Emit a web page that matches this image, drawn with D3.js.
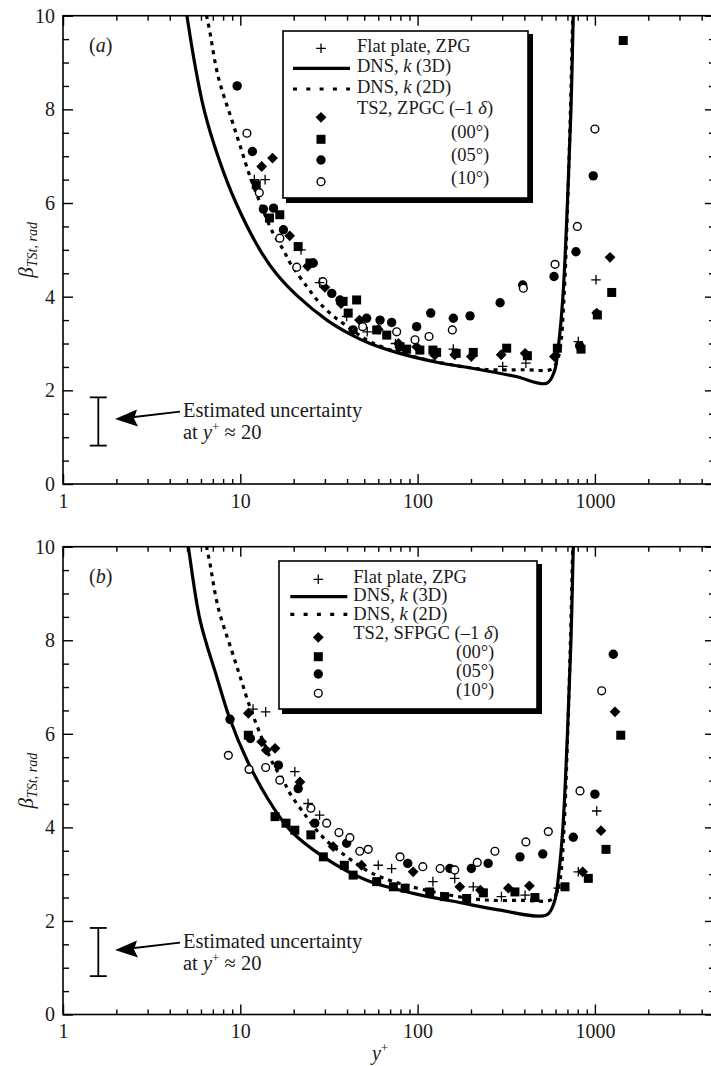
<!DOCTYPE html>
<html><head><meta charset="utf-8">
<script src="https://cdn.jsdelivr.net/npm/d3@7"></script>
<style>body{margin:0;background:#fff}</style>
</head><body>
<svg id="c" width="711" height="1066" xmlns="http://www.w3.org/2000/svg"></svg>
<script>
// ---------- data ----------
const xMajorTicks = [1, 10, 100, 1000];
const yMajorTicks = [0, 2, 4, 6, 8, 10];

// DNS curves (y+, beta)
const dns3DA = [[4.82,10.4],[5.0,10],[5.52,9.0],[6.24,8.0],[7.48,7.0],[9.46,6.0],[12.9,5.0],[15.9,4.5],[21.2,4.0],[30.8,3.5],[41.6,3.2],[53.9,3.0],[77.5,2.8],[128.6,2.6],[219,2.45],[354,2.3],[535,2.15],[590,2.4],[625,3.0],[660,4.0],[700,6.0],[733,8.0],[755,10],[760,10.4]];
const dns3DB = [[4.9,10.4],[5.09,10],[5.93,8.43],[7.36,7.22],[8.75,6.31],[10.9,5.44],[14.1,4.65],[19.1,3.94],[29.4,3.37],[51.6,2.87],[94.6,2.59],[181,2.38],[292,2.23],[535,2.13],[590,2.4],[625,3.0],[660,4.0],[700,6.0],[733,8.0],[755,10],[760,10.4]];
const dns2D = [[6.35,10.4],[6.46,10],[6.7,9.7],[7.5,8.7],[8.94,7.78],[10,7.21],[11.1,6.67],[12.6,6.11],[15.3,5.36],[17.5,5.0],[19.1,4.72],[23.7,4.22],[27.5,3.9],[32,3.65],[38,3.43],[51.6,3.08],[62.8,2.93],[86.6,2.76],[139,2.58],[235,2.45],[400,2.44],[558,2.44],[600,2.55],[635,2.86],[670,4.0],[703,6.07],[728,8.0],[750,10],[755,10.4]];

// panel (a): TS2, ZPGC
const flatPlateA = [[12.0,6.5],[13.8,6.5],[22,5.0],[28,4.3],[39.8,3.58],[52,3.25],[75,3.0],[100,2.9],[159,2.88],[302,2.51],[408,2.58],[806,3.04],[1014,4.36]];
const zpgcMinus1 = [[13.2,6.78],[15.2,6.96],[19,5.3],[24,4.65],[30,4.2],[37,3.85],[47,3.5],[60,3.3],[78,3.0],[98.8,2.93],[125,2.75],[162,2.76],[201,2.72],[296,2.76],[404,2.79],[591,2.72],[1024,3.65],[1217,4.84]];
const zpgc00 = [[12.3,6.39],[14.6,5.68],[16.7,5.75],[21.2,5.07],[24.7,4.72],[38,3.9],[45.3,3.93],[40.6,3.65],[58.8,3.29],[67,3.18],[79.6,2.93],[86.7,2.88],[103,2.86],[122,2.86],[128,2.81],[165,2.79],[206,2.81],[318,2.9],[416,2.74],[614,2.9],[835,2.88],[1032,3.61],[1244,4.09],[1445,9.47]];
const zpgc05 = [[9.6,8.5],[11.7,7.1],[13.5,5.87],[15.4,5.89],[17.5,5.43],[25.8,4.72],[32.8,4.07],[36.5,3.93],[43.3,3.29],[51.6,3.54],[61.4,3.5],[71.4,3.45],[98.8,3.36],[118.6,3.65],[159,3.54],[197.6,3.59],[292,3.87],[391.5,4.25],[588,4.43],[782,4.96],[820,2.95],[979,6.58]];
const zpgc10 = [[10.9,7.49],[12.8,6.22],[16.7,5.25],[20.8,4.63],[29.2,4.32],[49,3.36],[76.2,3.25],[96.7,3.08],[116,3.15],[157,3.29],[395,4.18],[596,4.69],[796,5.5],[1000,7.58]];

// panel (b): TS2, SFPGC
const flatPlateB = [[11.8,6.53],[13.9,6.47],[20.3,5.19],[24.1,4.51],[28,4.26],[60,3.19],[71.4,3.12],[122,2.84],[162,2.91],[206,2.73],[297,2.52],[404,2.55],[621,2.7],[806,3.05],[1024,4.35]];
const sfpgcMinus1 = [[11.1,6.44],[13.2,5.83],[14,5.65],[15.7,5.69],[21.7,4.97],[33.4,3.59],[48.3,3.19],[94.4,3.05],[173,2.73],[226,2.66],[325,2.7],[427,2.75],[853,3.05],[1082,3.93],[1298,6.47]];
const sfpgc00 = [[11.1,5.97],[15.7,4.23],[18.1,4.09],[20.3,3.94],[25,3.84],[29.4,3.37],[38.6,3.19],[43.3,2.98],[58.8,2.84],[73,2.73],[85,2.7],[117,2.62],[142,2.52],[189,2.48],[235,2.6],[354,2.62],[459,2.5],[678,2.73],[918,2.91],[1155,3.53],[1399,5.97]];
const sfpgc05 = [[8.75,6.31],[11.4,5.9],[16.4,5.33],[21.2,4.83],[26.3,4.09],[39.8,3.66],[88,3.23],[152,3.12],[201,3.12],[250,3.23],[378,3.37],[508,3.43],[755,3.79],[1000,4.71],[1270,7.7]];
const sfpgc10 = [[8.56,5.54],[11.2,5.24],[13.9,5.28],[16.7,5.01],[25,4.41],[30.7,4.09],[36,3.89],[41.5,3.78],[47.2,3.49],[52.7,3.53],[79.6,3.37],[107,3.16],[134,3.12],[162,3.09],[217,3.25],[273,3.49],[408,3.69],[546,3.91],[824,4.78],[1092,6.92]];

const legendCaseA = "TS2, ZPGC (\u20131 ";
const legendCaseB = "TS2, SFPGC (\u20131 ";
const angleLabels = ["(00\u00b0)", "(05\u00b0)", "(10\u00b0)"];
const uncertaintyRange = [0.82, 1.85];

// ---------- layout ----------
const FONT = '"Liberation Serif"';
const svg = d3.select("#c");
const X_LEFT = 63, X_RIGHT = 715;
const DECADE = 177.3;
const xMax = Math.pow(10, (X_RIGHT - X_LEFT) / DECADE);
const x = d3.scaleLog().domain([1, xMax]).range([X_LEFT, X_RIGHT]);

const panels = [
  { tag: "a", top: 15.7, bottom: 484, dns3D: dns3DA, pts: [flatPlateA, zpgcMinus1, zpgc00, zpgc05, zpgc10], caseLabel: legendCaseA,
    leg: { x0: 283, y0: 31, x1: 528, y1: 198, sym: 321, txt: 357, ang: 451,
           rows: [48.3, 68.3, 89, 0, 117.3, 139.3, 160, 181.7],
           base: [52, 72, 93, 114, 0, 138, 161, 184] } },
  { tag: "b", top: 546.7, bottom: 1014.5, dns3D: dns3DB, pts: [flatPlateB, sfpgcMinus1, sfpgc00, sfpgc05, sfpgc10], caseLabel: legendCaseB,
    leg: { x0: 279, y0: 561, x1: 537, y1: 709, sym: 318.3, txt: 353.3, ang: 456,
           rows: [579.3, 596.7, 614.3, 0, 637.3, 656.7, 674, 693.3],
           base: [583, 601, 619.5, 638.5, 0, 658, 677, 696] } }
];

function marker(g, type, cx, cy) {
  if (type === "plus") {
    g.append("path").attr("d", `M${cx-4.8},${cy}H${cx+4.8}M${cx},${cy-4.8}V${cy+4.8}`)
      .attr("stroke", "#000").attr("stroke-width", 1.3).attr("fill", "none");
  } else if (type === "diamond") {
    const s = 5.4;
    g.append("path").attr("d", `M${cx},${cy-s}L${cx+s},${cy}L${cx},${cy+s}L${cx-s},${cy}Z`).attr("fill", "#000");
  } else if (type === "square") {
    g.append("rect").attr("x", cx-4.5).attr("y", cy-4.5).attr("width", 9).attr("height", 9).attr("fill", "#000");
  } else if (type === "circle") {
    g.append("circle").attr("cx", cx).attr("cy", cy).attr("r", 4.7).attr("fill", "#000");
  } else if (type === "open") {
    g.append("circle").attr("cx", cx).attr("cy", cy).attr("r", 3.9).attr("fill", "#fff")
      .attr("stroke", "#000").attr("stroke-width", 1.4);
  }
}
const types = ["plus", "diamond", "square", "circle", "open"];
const drawOrder = [2, 1, 3, 4, 0];

panels.forEach((p, pi) => {
  const y = d3.scaleLinear().domain([0, 10]).range([p.bottom, p.top]);
  const g = svg.append("g");
  const clipId = "clip" + pi;
  svg.append("clipPath").attr("id", clipId).append("rect")
    .attr("x", X_LEFT).attr("y", p.top).attr("width", X_RIGHT - X_LEFT).attr("height", p.bottom - p.top);

  const xMinor = [];
  [1, 10, 100, 1000].forEach(d => { for (let k = 2; k <= 9; k++) if (d * k < xMax) xMinor.push(d * k); });
  const yMinor = d3.range(0.5, 10, 0.5).filter(v => v % 2 !== 0);

  const axStyle = sel => {
    sel.attr("font-family", null);
    sel.select(".domain").remove();
    sel.selectAll("line").attr("stroke", "#000").attr("stroke-width", 1.4);
    sel.selectAll("text").style("font-size", "20px");
  };
  g.append("g").attr("transform", `translate(0,${p.bottom})`)
    .call(d3.axisBottom(x).tickValues(xMajorTicks).tickSize(-10).tickPadding(9.5).tickFormat(d3.format("d"))).call(axStyle);
  g.append("g").attr("transform", `translate(0,${p.bottom})`)
    .call(d3.axisBottom(x).tickValues(xMinor).tickSize(-5).tickFormat("")).call(axStyle);
  g.append("g").attr("transform", `translate(0,${p.top})`)
    .call(d3.axisTop(x).tickValues(xMajorTicks).tickSize(-10).tickFormat("")).call(axStyle);
  g.append("g").attr("transform", `translate(0,${p.top})`)
    .call(d3.axisTop(x).tickValues(xMinor).tickSize(-5).tickFormat("")).call(axStyle);
  g.append("g").attr("transform", `translate(${X_LEFT},0)`)
    .call(d3.axisLeft(y).tickValues(yMajorTicks).tickSize(-10).tickPadding(8).tickFormat(d3.format("d"))).call(axStyle);
  g.append("g").attr("transform", `translate(${X_LEFT},0)`)
    .call(d3.axisLeft(y).tickValues(yMinor).tickSize(-6).tickFormat("")).call(axStyle);
  g.append("g").attr("transform", `translate(${X_RIGHT},0)`)
    .call(d3.axisRight(y).tickValues(yMajorTicks).tickSize(-10).tickFormat("")).call(axStyle);
  g.append("g").attr("transform", `translate(${X_RIGHT},0)`)
    .call(d3.axisRight(y).tickValues(yMinor).tickSize(-6).tickFormat("")).call(axStyle);

  g.append("rect").attr("x", X_LEFT).attr("y", p.top).attr("width", X_RIGHT - X_LEFT).attr("height", p.bottom - p.top)
    .attr("fill", "none").attr("stroke", "#000").attr("stroke-width", 1.6);

  const line = d3.line().x(d => x(d[0])).y(d => y(d[1])).curve(d3.curveCatmullRom.alpha(0.5));
  const cg = g.append("g").attr("clip-path", `url(#${clipId})`);
  cg.append("path").attr("d", line(dns2D)).attr("fill", "none").attr("stroke", "#000")
    .attr("stroke-width", 3.2).attr("stroke-dasharray", "4,5");
  cg.append("path").attr("d", line(p.dns3D)).attr("fill", "none").attr("stroke", "#000").attr("stroke-width", 3.2);

  const mg = g.append("g").attr("clip-path", `url(#${clipId})`);
  drawOrder.forEach(si => {
    p.pts[si].forEach(d => marker(mg, types[si], x(d[0]), y(d[1])));
  });

  const tg = g.append("text").attr("x", 89).attr("y", p.top + 36).style("font-size", "20px");
  tg.append("tspan").text("(");
  tg.append("tspan").attr("font-style", "italic").text(p.tag);
  tg.append("tspan").text(")");

  const mid = (p.top + p.bottom) / 2;
  const yl = g.append("text").attr("transform", `translate(33,${mid}) rotate(-90)`).attr("text-anchor", "middle").style("font-size", "21px");
  yl.append("tspan").attr("font-style", "italic").text("\u03b2");
  yl.append("tspan").attr("font-style", "italic").style("font-size", "14px").attr("dy", 4).text("TSt, rad");

  const ebx = 98.3;
  const eg = g.append("g");
  eg.append("line").attr("x1", ebx).attr("x2", ebx).attr("y1", y(uncertaintyRange[0])).attr("y2", y(uncertaintyRange[1]))
    .attr("stroke", "#000").attr("stroke-width", 1.8);
  uncertaintyRange.forEach(v => eg.append("line").attr("x1", ebx - 8.5).attr("x2", ebx + 8.5).attr("y1", y(v)).attr("y2", y(v))
    .attr("stroke", "#000").attr("stroke-width", 1.8));
  const ay = p.top + 403.3;
  eg.append("line").attr("x1", 180).attr("y1", ay - 7.3).attr("x2", 130).attr("y2", ay - 1.5).attr("stroke", "#000").attr("stroke-width", 1.8);
  eg.append("path").attr("d", `M${115},${ay} L${137},${ay - 9.5} L${134},${ay - 0.5} L${138},${ay + 7.5} Z`).attr("fill", "#000");
  eg.append("text").attr("x", 183).attr("y", p.top + 401.5).style("font-size", "20.5px").text("Estimated uncertainty");
  const t2 = eg.append("text").attr("x", 183).attr("y", p.top + 423.5).style("font-size", "20.5px");
  t2.append("tspan").text("at ");
  t2.append("tspan").attr("font-style", "italic").text("y");
  t2.append("tspan").style("font-size", "13px").attr("dy", -8).text("+");
  t2.append("tspan").attr("dy", 8).text(" \u2248 20");

  const L = p.leg;
  const lg = g.append("g");
  lg.append("rect").attr("x", L.x0 + 3).attr("y", L.y0 + 3).attr("width", L.x1 - L.x0 + 2).attr("height", L.y1 - L.y0 + 2).attr("fill", "#000");
  lg.append("rect").attr("x", L.x0).attr("y", L.y0).attr("width", L.x1 - L.x0).attr("height", L.y1 - L.y0)
    .attr("fill", "#fff").attr("stroke", "#000").attr("stroke-width", 1.6);
  const lt = (xx, yy) => lg.append("text").attr("x", xx).attr("y", yy).style("font-size", "18.5px");
  marker(lg, "plus", L.sym, L.rows[0]);
  lt(L.txt, L.base[0]).text("Flat plate, ZPG");
  lg.append("line").attr("x1", L.sym - 28).attr("x2", L.sym + 29).attr("y1", L.rows[1]).attr("y2", L.rows[1]).attr("stroke", "#000").attr("stroke-width", 3.2);
  const t3 = lt(L.txt, L.base[1]); t3.append("tspan").text("DNS, "); t3.append("tspan").attr("font-style", "italic").text("k"); t3.append("tspan").text(" (3D)");
  lg.append("line").attr("x1", L.sym - 28).attr("x2", L.sym + 29).attr("y1", L.rows[2]).attr("y2", L.rows[2]).attr("stroke", "#000").attr("stroke-width", 3.2).attr("stroke-dasharray", "4,9.3");
  const t4 = lt(L.txt, L.base[2]); t4.append("tspan").text("DNS, "); t4.append("tspan").attr("font-style", "italic").text("k"); t4.append("tspan").text(" (2D)");
  const t5 = lt(L.txt, L.base[3]); t5.append("tspan").text(p.caseLabel); t5.append("tspan").attr("font-style", "italic").text("\u03b4"); t5.append("tspan").text(")");
  marker(lg, "diamond", L.sym, L.rows[4]);
  ["square", "circle", "open"].forEach((tp, i) => {
    marker(lg, tp, L.sym, L.rows[5 + i]);
    lt(L.ang, L.base[5 + i]).text(angleLabels[i]);
  });

  if (pi === 1) {
    const xl = g.append("text").attr("x", 380).attr("y", 1060).attr("text-anchor", "middle").style("font-size", "20px");
    xl.append("tspan").attr("font-style", "italic").text("y");
    xl.append("tspan").style("font-size", "13px").attr("dy", -8).text("+");
  }
});
svg.selectAll("text").style("font-family", FONT).style("fill", "#1a1a1a");
</script>
</body></html>
